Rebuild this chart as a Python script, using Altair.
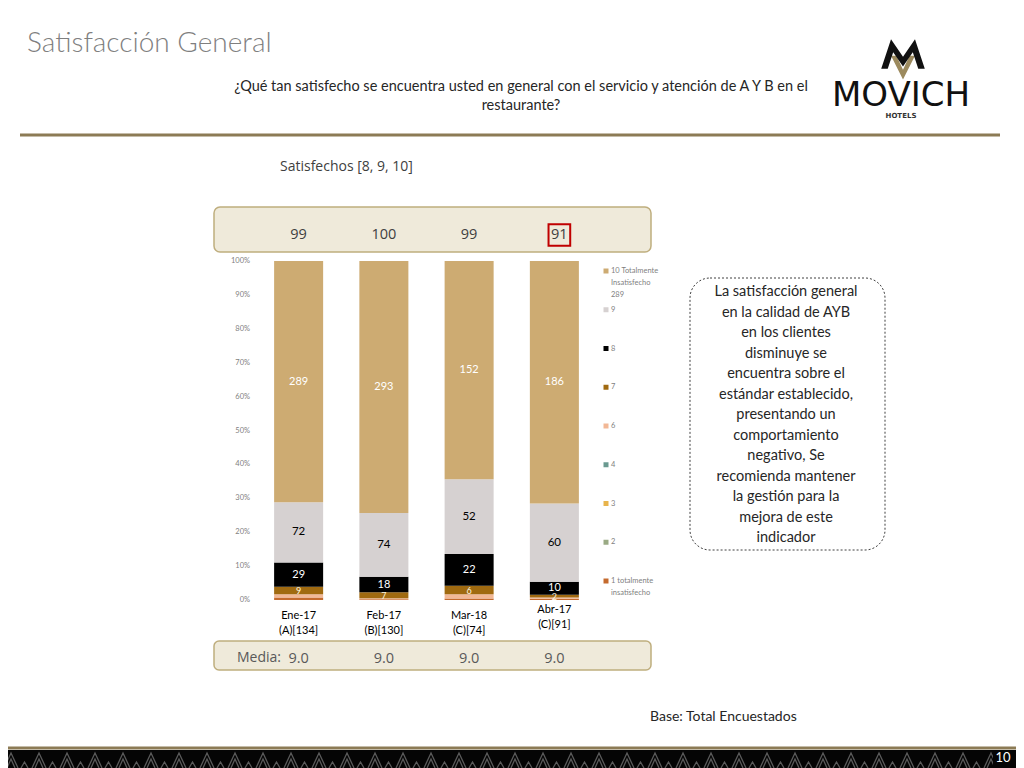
import altair as alt
import pandas as pd

# ---------------- data ----------------
cats = ["Ene-17", "Feb-17", "Mar-18", "Abr-17"]
bases = ["(A)[134]", "(B)[130]", "(C)[74]", "(C)[91]"]
satisfechos = ["99", "100", "99", "91"]
medias = ["9.0", "9.0", "9.0", "9.0"]

s10 = [289, 293, 152, 186]
s9 = [72, 74, 52, 60]
s8 = [29, 18, 22, 10]
s7 = [9, 7, 6, 2]
s6 = [4, 1, 3, 1]
s4 = [0, 0, 0, 0]
s3 = [0, 0, 0, 0]
s2 = [0, 0, 0, 0]
s1 = [3, 1, 1, 1]

score_order = ["1", "2", "3", "4", "6", "7", "8", "9", "10"]  # bottom -> top
series = {"1": s1, "2": s2, "3": s3, "4": s4, "6": s6, "7": s7, "8": s8, "9": s9, "10": s10}
score_colors = ["#C46A2E", "#9AAA84", "#E8B44C", "#6A9A90", "#F2B896",
                "#A06A10", "#000000", "#D6D1D1", "#CDAB72"]

legend_order = ["10", "9", "8", "7", "6", "4", "3", "2", "1"]
legend_labels = ["10 Totalmente\nInsatisfecho\n289", "9", "8", "7", "6", "4", "3", "2",
                 "1 totalmente\ninsatisfecho"]

tick_vals = [0.0, 0.1, 0.2, 0.3, 0.4, 0.5, 0.6, 0.7, 0.8, 0.9, 1.0]

title_text = "Satisfacción General"
question_text = "¿Qué tan satisfecho se encuentra usted en general con el servicio y atención de A Y B en el\nrestaurante?"
box_text = ("La satisfacción general\nen la calidad de AYB\nen los clientes\ndisminuye  se\n"
            "encuentra sobre el\nestándar establecido,\npresentando un\ncomportamiento\n"
            "negativo, Se\nrecomienda mantener\nla gestión para la\nmejora de este\nindicador")

# ---------------- tables ----------------
rows = []
for i, c in enumerate(cats):
    total = sum(series[s][i] for s in score_order)
    cum = 0
    for s in score_order:
        v = series[s][i]
        start = cum / total
        cum += v
        end = cum / total
        rows.append(dict(cat=c, score=s, count=v, start=start, end=end, mid=(start + end) / 2))
bars_df = pd.DataFrame(rows)
bars_df = bars_df[bars_df["count"] > 0]
labels_df = bars_df[bars_df["score"].isin(["10", "9", "8", "7"])]

cat_df = pd.DataFrame({"cat": cats, "base": bases, "sat": satisfechos, "media": medias})
cat_df["xlab"] = cat_df["cat"] + "\n" + cat_df["base"]
tick_df = pd.DataFrame({"tick": tick_vals})
leg_df = pd.DataFrame({"score": legend_order, "label": legend_labels})
one = pd.DataFrame({"a": [0]})

# ---------------- scales ----------------
xscale = alt.Scale(domain=cats, range=[248, 589], paddingInner=0.425, paddingOuter=0.2125)
yscale = alt.Scale(domain=[0, 1], range=[592, 253])
cscale = alt.Scale(domain=score_order, range=score_colors)
lscale = alt.Scale(type="point", domain=legend_order, range=[263, 573], padding=0)

X = alt.X("cat:N", sort=cats, scale=xscale, axis=None)

SANS = "Lato"
GOTH = "Open Sans"


def rect(x, x2, y, y2, **kw):
    return alt.Chart(one).mark_rect(**kw).encode(
        x=alt.value(x), x2=alt.value(x2), y=alt.value(y), y2=alt.value(y2))


def rule(x, x2, y, **kw):
    return alt.Chart(one).mark_rule(**kw).encode(
        x=alt.value(x), x2=alt.value(x2), y=alt.value(y))


def label(text, x, y, **kw):
    return alt.Chart(one).mark_text(text=text, **kw).encode(x=alt.value(x), y=alt.value(y))


layers = []

# header
layers.append(label(title_text, 19, 36, align="left", baseline="middle", font=SANS,
                    fontSize=28, fontWeight=300, color="#7F7F7F"))
layers.append(label(question_text, 513, 79, align="center", baseline="middle", font=SANS,
                    fontSize=14.5, color="#262626", lineBreak="\n", lineHeight=19))
layers.append(rule(12, 992, 127, color="#8C7B55", strokeWidth=3))

# logo
emblem_black = ("M-1,0.4 L-0.55,-0.95 L0,-0.15 L0.55,-0.95 L1,0.4 L0.7,0.4 L0.45,-0.35 "
                "L0,0.3 L-0.45,-0.35 L-0.7,0.4 Z")
emblem_gold = "M-0.55,-0.2 L0,0.9 L0.55,-0.2 L0.3,-0.2 L0,0.45 L-0.3,-0.2 Z"
layers.append(alt.Chart(one).mark_point(shape=emblem_gold, filled=True, size=1900,
                                        color="#9C8A5E", opacity=1, strokeWidth=0)
              .encode(x=alt.value(895), y=alt.value(52)))
layers.append(alt.Chart(one).mark_point(shape=emblem_black, filled=True, size=1900,
                                        color="#111111", opacity=1, strokeWidth=0)
              .encode(x=alt.value(895), y=alt.value(52)))
layers.append(label("MOVICH", 893, 98, align="center", baseline="alphabetic", font="DejaVu Sans",
                    fontSize=34, color="#111111"))
layers.append(label("HOTELS", 893, 110, align="center", baseline="alphabetic", font="DejaVu Sans",
                    fontSize=7, fontWeight="bold", color="#333333"))

# subtitle
layers.append(label("Satisfechos [8, 9, 10]", 272, 159, align="left", baseline="middle",
                    font=GOTH, fontSize=14, color="#404040"))

# top banner
layers.append(rect(206, 643, 199, 244, fill="#EFEADA", stroke="#BFAE7E", strokeWidth=1.5,
                   cornerRadius=6))
sat_main = alt.Chart(cat_df).transform_filter(alt.datum.cat != "Abr-17").mark_text(
    font=GOTH, fontSize=14.5, color="#404040", baseline="middle").encode(
    x=X, y=alt.value(227), text="sat:N")
sat_last = alt.Chart(cat_df).transform_filter(alt.datum.cat == "Abr-17").mark_text(
    font=GOTH, fontSize=14.5, color="#404040", baseline="middle", dx=5).encode(
    x=X, y=alt.value(227), text="sat:N")
box91 = alt.Chart(cat_df).transform_filter(alt.datum.cat == "Abr-17").mark_point(
    shape="square", size=470, filled=False, color="#C00000", strokeWidth=2, xOffset=5,
    opacity=1).encode(x=X, y=alt.value(227))
layers += [sat_main, sat_last, box91]

# y tick labels
layers.append(alt.Chart(tick_df).mark_text(align="right", baseline="middle", font=SANS,
                                           fontSize=7.5, color="#7F7F7F").encode(
    x=alt.value(242),
    y=alt.Y("tick:Q", scale=yscale, axis=None),
    text=alt.Text("tick:Q", format=".0%")))

# bars
layers.append(alt.Chart(bars_df).mark_bar().encode(
    x=X,
    y=alt.Y("start:Q", scale=yscale, axis=None),
    y2="end:Q",
    color=alt.Color("score:N", scale=cscale, legend=None)))

lab_big = alt.Chart(labels_df).transform_filter(
    (alt.datum.score == "10") | (alt.datum.score == "8")).mark_text(
    font=SANS, fontSize=11, color="#FFFFFF", baseline="middle").encode(
    x=X, y=alt.Y("mid:Q", scale=yscale, axis=None), text="count:Q")
lab_small = alt.Chart(labels_df).transform_filter(alt.datum.score == "7").mark_text(
    font=SANS, fontSize=9, color="#FFF8E0", baseline="middle", dy=1).encode(
    x=X, y=alt.Y("mid:Q", scale=yscale, axis=None), text="count:Q")
lab_black = alt.Chart(labels_df).transform_filter(alt.datum.score == "9").mark_text(
    font=SANS, fontSize=11.5, color="#000000", baseline="middle").encode(
    x=X, y=alt.Y("mid:Q", scale=yscale, axis=None), text="count:Q")
layers += [lab_big, lab_small, lab_black]

# x labels
xl_main = alt.Chart(cat_df).transform_filter(alt.datum.cat != "Abr-17").mark_text(
    font=SANS, fontSize=11, color="#000000", baseline="middle", lineBreak="\n",
    lineHeight=15).encode(x=X, y=alt.value(608), text="xlab:N")
xl_last = alt.Chart(cat_df).transform_filter(alt.datum.cat == "Abr-17").mark_text(
    font=SANS, fontSize=11, color="#000000", baseline="middle", lineBreak="\n",
    lineHeight=15).encode(x=X, y=alt.value(602), text="xlab:N")
layers += [xl_main, xl_last]

# legend
layers.append(alt.Chart(leg_df).mark_square(size=25, opacity=1).encode(
    x=alt.value(598),
    y=alt.Y("score:N", sort=legend_order, scale=lscale, axis=None),
    color=alt.Color("score:N", scale=cscale, legend=None)))
layers.append(alt.Chart(leg_df).mark_text(align="left", baseline="top", dy=-4, font=SANS,
                                          fontSize=7.5, color="#7F7F7F", lineBreak="\n",
                                          lineHeight=12).encode(
    x=alt.value(603),
    y=alt.Y("score:N", sort=legend_order, scale=lscale, axis=None),
    text="label:N"))

# bottom banner
layers.append(rect(206, 643, 633, 662, fill="#EFEADA", stroke="#BFAE7E", strokeWidth=1.5,
                   cornerRadius=5))
layers.append(label("Media:", 229, 650, align="left", baseline="middle", font=GOTH,
                    fontSize=14, color="#595959"))
layers.append(alt.Chart(cat_df).mark_text(font=GOTH, fontSize=14.5, color="#595959",
                                          baseline="middle").encode(
    x=X, y=alt.value(651), text="media:N"))

# comment box
layers.append(rect(682, 877, 270, 542, fill="#FFFFFF", fillOpacity=0, stroke="#404040",
                   strokeWidth=1, strokeDash=[2, 2], cornerRadius=20))
layers.append(label(box_text, 778, 284, align="center", baseline="middle", font=SANS,
                    fontSize=14.5, color="#262626", lineBreak="\n", lineHeight=20.5))

layers.append(label("Base: Total Encuestados", 642, 709, align="left", baseline="middle",
                    font=SANS, fontSize=14, color="#262626"))

# footer band with a decorative triangle motif (one custom path symbol)
motif = []
for k in range(37):
    x0 = k * 28 - 4
    motif.append(f"M{x0},0 L{x0 + 7},-15 L{x0 + 14},0 "
                 f"M{x0 + 3},0 L{x0 + 7},-9 L{x0 + 11},0 "
                 f"M{x0 + 17},0 L{x0 + 20.5},-6 L{x0 + 24},0")
motif_path = " ".join(motif)
layers.append(rule(0, 1008, 740, color="#8C7B55", strokeWidth=3))
layers.append(rect(0, 1008, 742, 760, fill="#050505"))
layers.append(alt.Chart(one).mark_point(shape=motif_path, size=4, filled=False,
                                        stroke="#5A5A5A", strokeWidth=1.3, opacity=1)
              .encode(x=alt.value(0), y=alt.value(760)))
layers.append(rect(985, 1008, 743, 760, fill="#050505"))
layers.append(label("10", 995, 750, align="center", baseline="middle", font=SANS,
                    fontSize=13, color="#FFFFFF"))

chart = alt.layer(*layers).resolve_scale(y="independent").properties(
    width=1008, height=760, padding=0, autosize=alt.AutoSizeParams(type="none")
).configure_view(strokeWidth=0)

chart.save("out.html", embed_options={"renderer": "svg", "actions": False})
